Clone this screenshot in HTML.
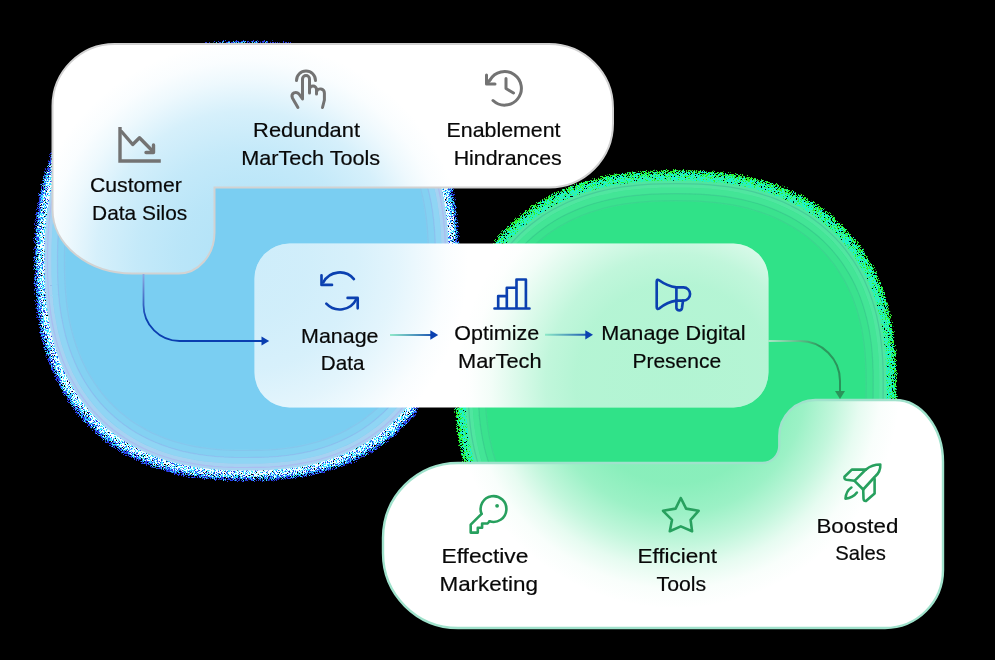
<!DOCTYPE html>
<html><head><meta charset="utf-8">
<style>
html,body{margin:0;padding:0;background:#000;width:995px;height:660px;overflow:hidden}
svg{display:block}
text{font-family:"Liberation Sans",sans-serif;font-size:20.8px;fill:#080808;stroke:#080808;stroke-width:0.2px}
</style></head>
<body>
<svg width="995" height="660" viewBox="0 0 995 660">
<defs>
  <path id="pTop" d="M52.5,106 A62,62 0 0 1 114.5,44 L549,44 A64,64 0 0 1 613,108 L613,123.5 A64,64 0 0 1 549,187.5 L214.5,187.5 L214.5,232.5 A36,41 0 0 1 178.5,273.5 L132.5,273.5 A80,64 0 0 1 52.5,209.5 Z"/>
  <path id="pMid" d="M289.5,243.5 H733.5 A35,35 0 0 1 768.5,278.5 V372.5 A35,35 0 0 1 733.5,407.5 H289.5 A35,35 0 0 1 254.5,372.5 V278.5 A35,35 0 0 1 289.5,243.5 Z"/>
  <path id="pBot" d="M383,538 A75,75 0 0 1 458,463 L762.3,463 A17,17 0 0 0 779.3,446 L779.3,436 A36,36 0 0 1 815.3,400 L895,400 A48,62 0 0 1 943,462 L943,570 A58,58 0 0 1 885,628 L458,628 A75,75 0 0 1 383,553 Z"/>
  <radialGradient id="gBlueTop" gradientUnits="userSpaceOnUse" cx="246.5" cy="261" r="220"><stop offset="0.000" stop-color="#7acef2" stop-opacity="0.600"/><stop offset="0.318" stop-color="#7acef2" stop-opacity="0.520"/><stop offset="0.500" stop-color="#7acef2" stop-opacity="0.440"/><stop offset="0.682" stop-color="#7acef2" stop-opacity="0.310"/><stop offset="0.818" stop-color="#7acef2" stop-opacity="0.130"/><stop offset="0.909" stop-color="#7acef2" stop-opacity="0.040"/><stop offset="1.000" stop-color="#7acef2" stop-opacity="0.000"/></radialGradient><radialGradient id="gBlueMid" gradientUnits="userSpaceOnUse" cx="246.5" cy="261" r="222"><stop offset="0.000" stop-color="#7acef2" stop-opacity="0.370"/><stop offset="0.270" stop-color="#7acef2" stop-opacity="0.350"/><stop offset="0.495" stop-color="#7acef2" stop-opacity="0.300"/><stop offset="0.676" stop-color="#7acef2" stop-opacity="0.210"/><stop offset="0.811" stop-color="#7acef2" stop-opacity="0.110"/><stop offset="0.901" stop-color="#7acef2" stop-opacity="0.040"/><stop offset="1.000" stop-color="#7acef2" stop-opacity="0.000"/></radialGradient><radialGradient id="gGreenMid" gradientUnits="userSpaceOnUse" cx="675.7" cy="383.7" r="220"><stop offset="0.000" stop-color="#30e288" stop-opacity="0.370"/><stop offset="0.455" stop-color="#30e288" stop-opacity="0.360"/><stop offset="0.591" stop-color="#30e288" stop-opacity="0.300"/><stop offset="0.727" stop-color="#30e288" stop-opacity="0.170"/><stop offset="0.841" stop-color="#30e288" stop-opacity="0.060"/><stop offset="0.932" stop-color="#30e288" stop-opacity="0.010"/><stop offset="1.000" stop-color="#30e288" stop-opacity="0.000"/></radialGradient><radialGradient id="gGreenBot" gradientUnits="userSpaceOnUse" cx="675.7" cy="383.7" r="225"><stop offset="0.000" stop-color="#30e288" stop-opacity="0.600"/><stop offset="0.444" stop-color="#30e288" stop-opacity="0.570"/><stop offset="0.578" stop-color="#30e288" stop-opacity="0.480"/><stop offset="0.711" stop-color="#30e288" stop-opacity="0.300"/><stop offset="0.822" stop-color="#30e288" stop-opacity="0.120"/><stop offset="0.911" stop-color="#30e288" stop-opacity="0.030"/><stop offset="1.000" stop-color="#30e288" stop-opacity="0.000"/></radialGradient>
  <filter id="bOut" x="0" y="0" width="995" height="660" filterUnits="userSpaceOnUse" color-interpolation-filters="sRGB">
    <feGaussianBlur in="SourceAlpha" stdDeviation="3" result="d"/>
    <feTurbulence type="fractalNoise" baseFrequency="1.1" numOctaves="1" seed="5" result="nr"/>
    <feColorMatrix in="nr" type="matrix" values="0 0 0 0 0  0 0 0 0 0  0 0 0 0 0  3 0 0 0 -1" result="n"/>
    <feComposite in="d" in2="n" operator="arithmetic" k1="2" k2="0" k3="0" k4="-0.4" result="s"/>
    <feComponentTransfer in="s" result="t"><feFuncA type="linear" slope="20" intercept="0"/></feComponentTransfer>
    <feFlood flood-color="#2a3ee8"/>
    <feComposite in2="t" operator="in"/>
  </filter>
  <filter id="bCyan" x="0" y="0" width="995" height="660" filterUnits="userSpaceOnUse" color-interpolation-filters="sRGB">
    <feGaussianBlur in="SourceAlpha" stdDeviation="4" result="d"/>
    <feTurbulence type="fractalNoise" baseFrequency="1.1" numOctaves="1" seed="9" result="nr"/>
    <feColorMatrix in="nr" type="matrix" values="0 0 0 0 0  0 0 0 0 0  0 0 0 0 0  3 0 0 0 -1" result="n"/>
    <feComposite in="d" in2="n" operator="arithmetic" k1="2" k2="0" k3="0" k4="-0.7" result="s"/>
    <feComponentTransfer in="s" result="t"><feFuncA type="linear" slope="20" intercept="0"/></feComponentTransfer>
    <feFlood flood-color="#38e4ff"/>
    <feComposite in2="t" operator="in"/>
  </filter>
  <filter id="bWhite" x="0" y="0" width="995" height="660" filterUnits="userSpaceOnUse" color-interpolation-filters="sRGB">
    <feGaussianBlur in="SourceAlpha" stdDeviation="4" result="d"/>
    <feTurbulence type="fractalNoise" baseFrequency="1.1" numOctaves="1" seed="13" result="nr"/>
    <feColorMatrix in="nr" type="matrix" values="0 0 0 0 0  0 0 0 0 0  0 0 0 0 0  3 0 0 0 -1" result="n"/>
    <feComposite in="d" in2="n" operator="arithmetic" k1="2" k2="0" k3="0" k4="-0.75" result="s"/>
    <feComponentTransfer in="s" result="t"><feFuncA type="linear" slope="20" intercept="0"/></feComponentTransfer>
    <feFlood flood-color="#f0fdff"/>
    <feComposite in2="t" operator="in"/>
  </filter>
  <filter id="gOut" x="0" y="0" width="995" height="660" filterUnits="userSpaceOnUse" color-interpolation-filters="sRGB">
    <feGaussianBlur in="SourceAlpha" stdDeviation="3" result="d"/>
    <feTurbulence type="fractalNoise" baseFrequency="1.1" numOctaves="1" seed="5" result="nr"/>
    <feColorMatrix in="nr" type="matrix" values="0 0 0 0 0  0 0 0 0 0  0 0 0 0 0  3 0 0 0 -1" result="n"/>
    <feComposite in="d" in2="n" operator="arithmetic" k1="2" k2="0" k3="0" k4="-0.4" result="s"/>
    <feComponentTransfer in="s" result="t"><feFuncA type="linear" slope="20" intercept="0"/></feComponentTransfer>
    <feFlood flood-color="#2cf030"/>
    <feComposite in2="t" operator="in"/>
  </filter>
  <filter id="gCyan" x="0" y="0" width="995" height="660" filterUnits="userSpaceOnUse" color-interpolation-filters="sRGB">
    <feGaussianBlur in="SourceAlpha" stdDeviation="4" result="d"/>
    <feTurbulence type="fractalNoise" baseFrequency="1.1" numOctaves="1" seed="9" result="nr"/>
    <feColorMatrix in="nr" type="matrix" values="0 0 0 0 0  0 0 0 0 0  0 0 0 0 0  3 0 0 0 -1" result="n"/>
    <feComposite in="d" in2="n" operator="arithmetic" k1="2" k2="0" k3="0" k4="-0.7" result="s"/>
    <feComponentTransfer in="s" result="t"><feFuncA type="linear" slope="20" intercept="0"/></feComponentTransfer>
    <feFlood flood-color="#14f4d4"/>
    <feComposite in2="t" operator="in"/>
  </filter>
  <filter id="gLite" x="0" y="0" width="995" height="660" filterUnits="userSpaceOnUse" color-interpolation-filters="sRGB">
    <feGaussianBlur in="SourceAlpha" stdDeviation="4" result="d"/>
    <feTurbulence type="fractalNoise" baseFrequency="1.1" numOctaves="1" seed="13" result="nr"/>
    <feColorMatrix in="nr" type="matrix" values="0 0 0 0 0  0 0 0 0 0  0 0 0 0 0  3 0 0 0 -1" result="n"/>
    <feComposite in="d" in2="n" operator="arithmetic" k1="2" k2="0" k3="0" k4="-0.75" result="s"/>
    <feComponentTransfer in="s" result="t"><feFuncA type="linear" slope="20" intercept="0"/></feComponentTransfer>
    <feFlood flood-color="#3cf0a0"/>
    <feComposite in2="t" operator="in"/>
  </filter>
  <linearGradient id="gArrow1" gradientUnits="userSpaceOnUse" x1="143" y1="274" x2="143" y2="320">
    <stop offset="0" stop-color="#8fa8e0"/>
    <stop offset="1" stop-color="#0a3eb0"/>
  </linearGradient>
  <linearGradient id="gArrowS" gradientUnits="userSpaceOnUse" x1="390" y1="0" x2="438" y2="0">
    <stop offset="0" stop-color="#86e8c4" stop-opacity="0.9"/>
    <stop offset="1" stop-color="#0b40b0"/>
  </linearGradient>
  <linearGradient id="gArrowS2" gradientUnits="userSpaceOnUse" x1="545" y1="0" x2="593" y2="0">
    <stop offset="0" stop-color="#86e8c4" stop-opacity="0.9"/>
    <stop offset="1" stop-color="#0b40b0"/>
  </linearGradient>
  <linearGradient id="gArrow2" gradientUnits="userSpaceOnUse" x1="768" y1="341" x2="835" y2="380">
    <stop offset="0" stop-color="#a8e8c6"/>
    <stop offset="0.6" stop-color="#2c9a5e"/>
    <stop offset="1" stop-color="#2a935a"/>
  </linearGradient>
</defs>
<rect width="995" height="660" fill="#000"/>
<!-- blue blob -->
<path d="M457.5,261.0 L457.4,275.5 L457.0,287.0 L456.3,297.4 L455.3,307.3 L454.1,316.7 L452.6,325.7 L450.9,334.4 L448.8,342.8 L446.5,350.9 L444.0,358.8 L441.2,366.4 L438.1,373.8 L434.7,381.0 L431.1,387.9 L427.3,394.6 L423.2,401.1 L418.9,407.3 L414.3,413.3 L409.4,419.0 L404.4,424.5 L399.1,429.7 L393.5,434.7 L387.8,439.5 L381.8,444.0 L375.5,448.2 L369.1,452.2 L362.4,455.9 L355.5,459.4 L348.3,462.6 L340.9,465.5 L333.3,468.1 L325.5,470.5 L317.4,472.6 L309.0,474.4 L300.2,476.0 L291.2,477.2 L281.7,478.2 L271.6,478.9 L260.5,479.4 L246.5,479.5 L232.5,479.4 L221.4,478.9 L211.3,478.2 L201.8,477.2 L192.8,476.0 L184.0,474.4 L175.6,472.6 L167.5,470.5 L159.7,468.1 L152.1,465.5 L144.7,462.6 L137.5,459.4 L130.6,455.9 L123.9,452.2 L117.5,448.2 L111.2,444.0 L105.2,439.5 L99.5,434.7 L93.9,429.7 L88.6,424.5 L83.6,419.0 L78.7,413.3 L74.1,407.3 L69.8,401.1 L65.7,394.6 L61.9,387.9 L58.3,381.0 L54.9,373.8 L51.8,366.4 L49.0,358.8 L46.5,350.9 L44.2,342.8 L42.1,334.4 L40.4,325.7 L38.9,316.7 L37.7,307.3 L36.7,297.4 L36.0,287.0 L35.6,275.5 L35.5,261.0 L35.6,246.5 L36.0,235.0 L36.7,224.6 L37.7,214.7 L38.9,205.3 L40.4,196.3 L42.1,187.6 L44.2,179.2 L46.5,171.1 L49.0,163.2 L51.8,155.6 L54.9,148.2 L58.3,141.0 L61.9,134.1 L65.7,127.4 L69.8,120.9 L74.1,114.7 L78.7,108.7 L83.6,103.0 L88.6,97.5 L93.9,92.3 L99.5,87.3 L105.2,82.5 L111.2,78.0 L117.5,73.8 L123.9,69.8 L130.6,66.1 L137.5,62.6 L144.7,59.4 L152.1,56.5 L159.7,53.9 L167.5,51.5 L175.6,49.4 L184.0,47.6 L192.8,46.0 L201.8,44.8 L211.3,43.8 L221.4,43.1 L232.5,42.6 L246.5,42.5 L260.5,42.6 L271.6,43.1 L281.7,43.8 L291.2,44.8 L300.2,46.0 L309.0,47.6 L317.4,49.4 L325.5,51.5 L333.3,53.9 L340.9,56.5 L348.3,59.4 L355.5,62.6 L362.4,66.1 L369.1,69.8 L375.5,73.8 L381.8,78.0 L387.8,82.5 L393.5,87.3 L399.1,92.3 L404.4,97.5 L409.4,103.0 L414.3,108.7 L418.9,114.7 L423.2,120.9 L427.3,127.4 L431.1,134.1 L434.7,141.0 L438.1,148.2 L441.2,155.6 L444.0,163.2 L446.5,171.1 L448.8,179.2 L450.9,187.6 L452.6,196.3 L454.1,205.3 L455.3,214.7 L456.3,224.6 L457.0,235.0 L457.4,246.5 Z" fill="#fff" filter="url(#bOut)"/>
<path d="M457.5,261.0 L457.4,275.5 L457.0,287.0 L456.3,297.4 L455.3,307.3 L454.1,316.7 L452.6,325.7 L450.9,334.4 L448.8,342.8 L446.5,350.9 L444.0,358.8 L441.2,366.4 L438.1,373.8 L434.7,381.0 L431.1,387.9 L427.3,394.6 L423.2,401.1 L418.9,407.3 L414.3,413.3 L409.4,419.0 L404.4,424.5 L399.1,429.7 L393.5,434.7 L387.8,439.5 L381.8,444.0 L375.5,448.2 L369.1,452.2 L362.4,455.9 L355.5,459.4 L348.3,462.6 L340.9,465.5 L333.3,468.1 L325.5,470.5 L317.4,472.6 L309.0,474.4 L300.2,476.0 L291.2,477.2 L281.7,478.2 L271.6,478.9 L260.5,479.4 L246.5,479.5 L232.5,479.4 L221.4,478.9 L211.3,478.2 L201.8,477.2 L192.8,476.0 L184.0,474.4 L175.6,472.6 L167.5,470.5 L159.7,468.1 L152.1,465.5 L144.7,462.6 L137.5,459.4 L130.6,455.9 L123.9,452.2 L117.5,448.2 L111.2,444.0 L105.2,439.5 L99.5,434.7 L93.9,429.7 L88.6,424.5 L83.6,419.0 L78.7,413.3 L74.1,407.3 L69.8,401.1 L65.7,394.6 L61.9,387.9 L58.3,381.0 L54.9,373.8 L51.8,366.4 L49.0,358.8 L46.5,350.9 L44.2,342.8 L42.1,334.4 L40.4,325.7 L38.9,316.7 L37.7,307.3 L36.7,297.4 L36.0,287.0 L35.6,275.5 L35.5,261.0 L35.6,246.5 L36.0,235.0 L36.7,224.6 L37.7,214.7 L38.9,205.3 L40.4,196.3 L42.1,187.6 L44.2,179.2 L46.5,171.1 L49.0,163.2 L51.8,155.6 L54.9,148.2 L58.3,141.0 L61.9,134.1 L65.7,127.4 L69.8,120.9 L74.1,114.7 L78.7,108.7 L83.6,103.0 L88.6,97.5 L93.9,92.3 L99.5,87.3 L105.2,82.5 L111.2,78.0 L117.5,73.8 L123.9,69.8 L130.6,66.1 L137.5,62.6 L144.7,59.4 L152.1,56.5 L159.7,53.9 L167.5,51.5 L175.6,49.4 L184.0,47.6 L192.8,46.0 L201.8,44.8 L211.3,43.8 L221.4,43.1 L232.5,42.6 L246.5,42.5 L260.5,42.6 L271.6,43.1 L281.7,43.8 L291.2,44.8 L300.2,46.0 L309.0,47.6 L317.4,49.4 L325.5,51.5 L333.3,53.9 L340.9,56.5 L348.3,59.4 L355.5,62.6 L362.4,66.1 L369.1,69.8 L375.5,73.8 L381.8,78.0 L387.8,82.5 L393.5,87.3 L399.1,92.3 L404.4,97.5 L409.4,103.0 L414.3,108.7 L418.9,114.7 L423.2,120.9 L427.3,127.4 L431.1,134.1 L434.7,141.0 L438.1,148.2 L441.2,155.6 L444.0,163.2 L446.5,171.1 L448.8,179.2 L450.9,187.6 L452.6,196.3 L454.1,205.3 L455.3,214.7 L456.3,224.6 L457.0,235.0 L457.4,246.5 Z" fill="#fff" filter="url(#bCyan)"/>
<path d="M455.5,261.0 L455.4,275.4 L455.0,286.7 L454.3,297.1 L453.3,306.8 L452.1,316.1 L450.7,325.1 L448.9,333.7 L446.9,342.0 L444.6,350.1 L442.1,357.9 L439.3,365.5 L436.3,372.8 L433.0,379.9 L429.4,386.8 L425.6,393.4 L421.5,399.8 L417.2,405.9 L412.7,411.9 L407.9,417.6 L402.9,423.0 L397.6,428.2 L392.1,433.2 L386.4,437.9 L380.5,442.3 L374.3,446.5 L367.9,450.5 L361.3,454.1 L354.4,457.6 L347.4,460.7 L340.1,463.6 L332.5,466.2 L324.7,468.6 L316.7,470.7 L308.4,472.5 L299.7,474.0 L290.8,475.3 L281.3,476.2 L271.3,476.9 L260.4,477.4 L246.5,477.5 L232.6,477.4 L221.7,476.9 L211.7,476.2 L202.2,475.3 L193.3,474.0 L184.6,472.5 L176.3,470.7 L168.3,468.6 L160.5,466.2 L152.9,463.6 L145.6,460.7 L138.6,457.6 L131.7,454.1 L125.1,450.5 L118.7,446.5 L112.5,442.3 L106.6,437.9 L100.9,433.2 L95.4,428.2 L90.1,423.0 L85.1,417.6 L80.3,411.9 L75.8,405.9 L71.5,399.8 L67.4,393.4 L63.6,386.8 L60.0,379.9 L56.7,372.8 L53.7,365.5 L50.9,357.9 L48.4,350.1 L46.1,342.0 L44.1,333.7 L42.3,325.1 L40.9,316.1 L39.7,306.8 L38.7,297.1 L38.0,286.7 L37.6,275.4 L37.5,261.0 L37.6,246.6 L38.0,235.3 L38.7,224.9 L39.7,215.2 L40.9,205.9 L42.3,196.9 L44.1,188.3 L46.1,180.0 L48.4,171.9 L50.9,164.1 L53.7,156.5 L56.7,149.2 L60.0,142.1 L63.6,135.2 L67.4,128.6 L71.5,122.2 L75.8,116.1 L80.3,110.1 L85.1,104.4 L90.1,99.0 L95.4,93.8 L100.9,88.8 L106.6,84.1 L112.5,79.7 L118.7,75.5 L125.1,71.5 L131.7,67.9 L138.6,64.4 L145.6,61.3 L152.9,58.4 L160.5,55.8 L168.3,53.4 L176.3,51.3 L184.6,49.5 L193.3,48.0 L202.2,46.7 L211.7,45.8 L221.7,45.1 L232.6,44.6 L246.5,44.5 L260.4,44.6 L271.3,45.1 L281.3,45.8 L290.8,46.7 L299.7,48.0 L308.4,49.5 L316.7,51.3 L324.7,53.4 L332.5,55.8 L340.1,58.4 L347.4,61.3 L354.4,64.4 L361.3,67.9 L367.9,71.5 L374.3,75.5 L380.5,79.7 L386.4,84.1 L392.1,88.8 L397.6,93.8 L402.9,99.0 L407.9,104.4 L412.7,110.1 L417.2,116.1 L421.5,122.2 L425.6,128.6 L429.4,135.2 L433.0,142.1 L436.3,149.2 L439.3,156.5 L442.1,164.1 L444.6,171.9 L446.9,180.0 L448.9,188.3 L450.7,196.9 L452.1,205.9 L453.3,215.2 L454.3,224.9 L455.0,235.3 L455.4,246.6 Z" fill="#fff" filter="url(#bWhite)"/>
<path d="M444.5,261.0 L444.4,274.7 L444.0,285.4 L443.4,295.3 L442.5,304.5 L441.3,313.3 L439.9,321.8 L438.3,330.0 L436.4,337.9 L434.2,345.6 L431.8,353.0 L429.2,360.2 L426.3,367.1 L423.1,373.9 L419.8,380.4 L416.2,386.7 L412.3,392.7 L408.2,398.6 L403.9,404.2 L399.4,409.6 L394.7,414.8 L389.7,419.7 L384.5,424.4 L379.1,428.9 L373.4,433.1 L367.6,437.1 L361.5,440.8 L355.2,444.3 L348.8,447.6 L342.1,450.6 L335.1,453.3 L328.0,455.8 L320.6,458.0 L313.0,460.0 L305.1,461.7 L296.9,463.2 L288.4,464.4 L279.5,465.3 L270.0,466.0 L259.7,466.4 L246.5,466.5 L233.3,466.4 L223.0,466.0 L213.5,465.3 L204.6,464.4 L196.1,463.2 L187.9,461.7 L180.0,460.0 L172.4,458.0 L165.0,455.8 L157.9,453.3 L150.9,450.6 L144.2,447.6 L137.8,444.3 L131.5,440.8 L125.4,437.1 L119.6,433.1 L113.9,428.9 L108.5,424.4 L103.3,419.7 L98.3,414.8 L93.6,409.6 L89.1,404.2 L84.8,398.6 L80.7,392.7 L76.8,386.7 L73.2,380.4 L69.9,373.9 L66.7,367.1 L63.8,360.2 L61.2,353.0 L58.8,345.6 L56.6,337.9 L54.7,330.0 L53.1,321.8 L51.7,313.3 L50.5,304.5 L49.6,295.3 L49.0,285.4 L48.6,274.7 L48.5,261.0 L48.6,247.3 L49.0,236.6 L49.6,226.7 L50.5,217.5 L51.7,208.7 L53.1,200.2 L54.7,192.0 L56.6,184.1 L58.8,176.4 L61.2,169.0 L63.8,161.8 L66.7,154.9 L69.9,148.1 L73.2,141.6 L76.8,135.3 L80.7,129.3 L84.8,123.4 L89.1,117.8 L93.6,112.4 L98.3,107.2 L103.3,102.3 L108.5,97.6 L113.9,93.1 L119.6,88.9 L125.4,84.9 L131.5,81.2 L137.8,77.7 L144.2,74.4 L150.9,71.4 L157.9,68.7 L165.0,66.2 L172.4,64.0 L180.0,62.0 L187.9,60.3 L196.1,58.8 L204.6,57.6 L213.5,56.7 L223.0,56.0 L233.3,55.6 L246.5,55.5 L259.7,55.6 L270.0,56.0 L279.5,56.7 L288.4,57.6 L296.9,58.8 L305.1,60.3 L313.0,62.0 L320.6,64.0 L328.0,66.2 L335.1,68.7 L342.1,71.4 L348.8,74.4 L355.2,77.7 L361.5,81.2 L367.6,84.9 L373.4,88.9 L379.1,93.1 L384.5,97.6 L389.7,102.3 L394.7,107.2 L399.4,112.4 L403.9,117.8 L408.2,123.4 L412.3,129.3 L416.2,135.3 L419.8,141.6 L423.1,148.1 L426.3,154.9 L429.2,161.8 L431.8,169.0 L434.2,176.4 L436.4,184.1 L438.3,192.0 L439.9,200.2 L441.3,208.7 L442.5,217.5 L443.4,226.7 L444.0,236.6 L444.4,247.3 Z" fill="none" stroke="#a6d2f2" stroke-width="8"/>
<path d="M441.5,261.0 L441.4,274.5 L441.0,285.1 L440.4,294.8 L439.5,303.9 L438.4,312.6 L437.0,320.9 L435.4,329.0 L433.5,336.8 L431.4,344.3 L429.0,351.6 L426.4,358.7 L423.5,365.6 L420.5,372.2 L417.1,378.6 L413.6,384.8 L409.8,390.8 L405.8,396.6 L401.6,402.1 L397.1,407.4 L392.4,412.5 L387.5,417.4 L382.4,422.0 L377.0,426.4 L371.5,430.6 L365.7,434.5 L359.8,438.2 L353.6,441.7 L347.2,444.9 L340.6,447.8 L333.8,450.5 L326.8,453.0 L319.5,455.2 L312.0,457.1 L304.2,458.8 L296.2,460.2 L287.8,461.4 L279.0,462.3 L269.7,463.0 L259.5,463.4 L246.5,463.5 L233.5,463.4 L223.3,463.0 L214.0,462.3 L205.2,461.4 L196.8,460.2 L188.8,458.8 L181.0,457.1 L173.5,455.2 L166.2,453.0 L159.2,450.5 L152.4,447.8 L145.8,444.9 L139.4,441.7 L133.2,438.2 L127.3,434.5 L121.5,430.6 L116.0,426.4 L110.6,422.0 L105.5,417.4 L100.6,412.5 L95.9,407.4 L91.4,402.1 L87.2,396.6 L83.2,390.8 L79.4,384.8 L75.9,378.6 L72.5,372.2 L69.5,365.6 L66.6,358.7 L64.0,351.6 L61.6,344.3 L59.5,336.8 L57.6,329.0 L56.0,320.9 L54.6,312.6 L53.5,303.9 L52.6,294.8 L52.0,285.1 L51.6,274.5 L51.5,261.0 L51.6,247.5 L52.0,236.9 L52.6,227.2 L53.5,218.1 L54.6,209.4 L56.0,201.1 L57.6,193.0 L59.5,185.2 L61.6,177.7 L64.0,170.4 L66.6,163.3 L69.5,156.4 L72.5,149.8 L75.9,143.4 L79.4,137.2 L83.2,131.2 L87.2,125.4 L91.4,119.9 L95.9,114.6 L100.6,109.5 L105.5,104.6 L110.6,100.0 L116.0,95.6 L121.5,91.4 L127.3,87.5 L133.2,83.8 L139.4,80.3 L145.8,77.1 L152.4,74.2 L159.2,71.5 L166.2,69.0 L173.5,66.8 L181.0,64.9 L188.8,63.2 L196.8,61.8 L205.2,60.6 L214.0,59.7 L223.3,59.0 L233.5,58.6 L246.5,58.5 L259.5,58.6 L269.7,59.0 L279.0,59.7 L287.8,60.6 L296.2,61.8 L304.2,63.2 L312.0,64.9 L319.5,66.8 L326.8,69.0 L333.8,71.5 L340.6,74.2 L347.2,77.1 L353.6,80.3 L359.8,83.8 L365.7,87.5 L371.5,91.4 L377.0,95.6 L382.4,100.0 L387.5,104.6 L392.4,109.5 L397.1,114.6 L401.6,119.9 L405.8,125.4 L409.8,131.2 L413.6,137.2 L417.1,143.4 L420.5,149.8 L423.5,156.4 L426.4,163.3 L429.0,170.4 L431.4,177.7 L433.5,185.2 L435.4,193.0 L437.0,201.1 L438.4,209.4 L439.5,218.1 L440.4,227.2 L441.0,236.9 L441.4,247.5 Z" fill="#7acef2"/>
<path d="M438.5,261.0 L438.4,274.3 L438.0,284.7 L437.4,294.3 L436.5,303.2 L435.4,311.8 L434.1,320.1 L432.4,328.0 L430.6,335.7 L428.5,343.1 L426.2,350.3 L423.6,357.3 L420.8,364.0 L417.8,370.6 L414.5,376.9 L411.0,383.0 L407.3,388.9 L403.3,394.6 L399.2,400.0 L394.8,405.3 L390.2,410.3 L385.3,415.1 L380.3,419.6 L375.0,424.0 L369.6,428.1 L363.9,431.9 L358.0,435.6 L351.9,439.0 L345.7,442.1 L339.2,445.0 L332.4,447.7 L325.5,450.1 L318.4,452.3 L311.0,454.2 L303.3,455.9 L295.4,457.3 L287.2,458.4 L278.5,459.3 L269.3,460.0 L259.3,460.4 L246.5,460.5 L233.7,460.4 L223.7,460.0 L214.5,459.3 L205.8,458.4 L197.6,457.3 L189.7,455.9 L182.0,454.2 L174.6,452.3 L167.5,450.1 L160.6,447.7 L153.8,445.0 L147.3,442.1 L141.1,439.0 L135.0,435.6 L129.1,431.9 L123.4,428.1 L118.0,424.0 L112.7,419.6 L107.7,415.1 L102.8,410.3 L98.2,405.3 L93.8,400.0 L89.7,394.6 L85.7,388.9 L82.0,383.0 L78.5,376.9 L75.2,370.6 L72.2,364.0 L69.4,357.3 L66.8,350.3 L64.5,343.1 L62.4,335.7 L60.6,328.0 L58.9,320.1 L57.6,311.8 L56.5,303.2 L55.6,294.3 L55.0,284.7 L54.6,274.3 L54.5,261.0 L54.6,247.7 L55.0,237.3 L55.6,227.7 L56.5,218.8 L57.6,210.2 L58.9,201.9 L60.6,194.0 L62.4,186.3 L64.5,178.9 L66.8,171.7 L69.4,164.7 L72.2,158.0 L75.2,151.4 L78.5,145.1 L82.0,139.0 L85.7,133.1 L89.7,127.4 L93.8,122.0 L98.2,116.7 L102.8,111.7 L107.7,106.9 L112.7,102.4 L118.0,98.0 L123.4,93.9 L129.1,90.1 L135.0,86.4 L141.1,83.0 L147.3,79.9 L153.8,77.0 L160.6,74.3 L167.5,71.9 L174.6,69.7 L182.0,67.8 L189.7,66.1 L197.6,64.7 L205.8,63.6 L214.5,62.7 L223.7,62.0 L233.7,61.6 L246.5,61.5 L259.3,61.6 L269.3,62.0 L278.5,62.7 L287.2,63.6 L295.4,64.7 L303.3,66.1 L311.0,67.8 L318.4,69.7 L325.5,71.9 L332.4,74.3 L339.2,77.0 L345.7,79.9 L351.9,83.0 L358.0,86.4 L363.9,90.1 L369.6,93.9 L375.0,98.0 L380.3,102.4 L385.3,106.9 L390.2,111.7 L394.8,116.7 L399.2,122.0 L403.3,127.4 L407.3,133.1 L411.0,139.0 L414.5,145.1 L417.8,151.4 L420.8,158.0 L423.6,164.7 L426.2,171.7 L428.5,178.9 L430.6,186.3 L432.4,194.0 L434.1,201.9 L435.4,210.2 L436.5,218.8 L437.4,227.7 L438.0,237.3 L438.4,247.7 Z" fill="none" stroke="#a8def6" stroke-opacity="0.45" stroke-width="6"/>
<path d="M431.5,261.0 L431.4,273.8 L431.0,283.9 L430.4,293.1 L429.6,301.8 L428.5,310.0 L427.2,318.0 L425.7,325.6 L423.9,333.1 L421.9,340.2 L419.6,347.2 L417.2,353.9 L414.5,360.4 L411.5,366.7 L408.4,372.8 L405.0,378.7 L401.4,384.4 L397.6,389.9 L393.6,395.1 L389.4,400.2 L384.9,405.0 L380.3,409.7 L375.4,414.1 L370.4,418.3 L365.1,422.2 L359.6,426.0 L354.0,429.5 L348.1,432.7 L342.0,435.8 L335.8,438.6 L329.3,441.2 L322.6,443.5 L315.7,445.6 L308.6,447.4 L301.3,449.0 L293.6,450.4 L285.7,451.5 L277.3,452.4 L268.5,453.0 L258.8,453.4 L246.5,453.5 L234.2,453.4 L224.5,453.0 L215.7,452.4 L207.3,451.5 L199.4,450.4 L191.7,449.0 L184.4,447.4 L177.3,445.6 L170.4,443.5 L163.7,441.2 L157.2,438.6 L151.0,435.8 L144.9,432.7 L139.0,429.5 L133.4,426.0 L127.9,422.2 L122.6,418.3 L117.6,414.1 L112.7,409.7 L108.1,405.0 L103.6,400.2 L99.4,395.1 L95.4,389.9 L91.6,384.4 L88.0,378.7 L84.6,372.8 L81.5,366.7 L78.5,360.4 L75.8,353.9 L73.4,347.2 L71.1,340.2 L69.1,333.1 L67.3,325.6 L65.8,318.0 L64.5,310.0 L63.4,301.8 L62.6,293.1 L62.0,283.9 L61.6,273.8 L61.5,261.0 L61.6,248.2 L62.0,238.1 L62.6,228.9 L63.4,220.2 L64.5,212.0 L65.8,204.0 L67.3,196.4 L69.1,188.9 L71.1,181.8 L73.4,174.8 L75.8,168.1 L78.5,161.6 L81.5,155.3 L84.6,149.2 L88.0,143.3 L91.6,137.6 L95.4,132.1 L99.4,126.9 L103.6,121.8 L108.1,117.0 L112.7,112.3 L117.6,107.9 L122.6,103.7 L127.9,99.8 L133.4,96.0 L139.0,92.5 L144.9,89.3 L151.0,86.2 L157.2,83.4 L163.7,80.8 L170.4,78.5 L177.3,76.4 L184.4,74.6 L191.7,73.0 L199.4,71.6 L207.3,70.5 L215.7,69.6 L224.5,69.0 L234.2,68.6 L246.5,68.5 L258.8,68.6 L268.5,69.0 L277.3,69.6 L285.7,70.5 L293.6,71.6 L301.3,73.0 L308.6,74.6 L315.7,76.4 L322.6,78.5 L329.3,80.8 L335.8,83.4 L342.0,86.2 L348.1,89.3 L354.0,92.5 L359.6,96.0 L365.1,99.8 L370.4,103.7 L375.4,107.9 L380.3,112.3 L384.9,117.0 L389.4,121.8 L393.6,126.9 L397.6,132.1 L401.4,137.6 L405.0,143.3 L408.4,149.2 L411.5,155.3 L414.5,161.6 L417.2,168.1 L419.6,174.8 L421.9,181.8 L423.9,188.9 L425.7,196.4 L427.2,204.0 L428.5,212.0 L429.6,220.2 L430.4,228.9 L431.0,238.1 L431.4,248.2 Z" fill="none" stroke="#a0daf4" stroke-opacity="0.25" stroke-width="8"/>
<path d="M435.5,261.0 L435.4,274.1 L435.0,284.4 L434.4,293.8 L433.6,302.6 L432.5,311.1 L431.1,319.2 L429.5,327.0 L427.7,334.5 L425.7,341.9 L423.4,349.0 L420.9,355.8 L418.1,362.5 L415.1,368.9 L411.9,375.1 L408.5,381.2 L404.8,387.0 L400.9,392.6 L396.8,397.9 L392.5,403.1 L387.9,408.0 L383.2,412.8 L378.2,417.2 L373.0,421.5 L367.7,425.6 L362.1,429.4 L356.3,433.0 L350.3,436.3 L344.1,439.4 L337.7,442.3 L331.1,444.9 L324.3,447.3 L317.2,449.4 L310.0,451.3 L302.4,452.9 L294.6,454.3 L286.5,455.5 L278.0,456.4 L269.0,457.0 L259.1,457.4 L246.5,457.5 L233.9,457.4 L224.0,457.0 L215.0,456.4 L206.5,455.5 L198.4,454.3 L190.6,452.9 L183.0,451.3 L175.8,449.4 L168.7,447.3 L161.9,444.9 L155.3,442.3 L148.9,439.4 L142.7,436.3 L136.7,433.0 L130.9,429.4 L125.3,425.6 L120.0,421.5 L114.8,417.2 L109.8,412.8 L105.1,408.0 L100.5,403.1 L96.2,397.9 L92.1,392.6 L88.2,387.0 L84.5,381.2 L81.1,375.1 L77.9,368.9 L74.9,362.5 L72.1,355.8 L69.6,349.0 L67.3,341.9 L65.3,334.5 L63.5,327.0 L61.9,319.2 L60.5,311.1 L59.4,302.6 L58.6,293.8 L58.0,284.4 L57.6,274.1 L57.5,261.0 L57.6,247.9 L58.0,237.6 L58.6,228.2 L59.4,219.4 L60.5,210.9 L61.9,202.8 L63.5,195.0 L65.3,187.5 L67.3,180.1 L69.6,173.0 L72.1,166.2 L74.9,159.5 L77.9,153.1 L81.1,146.9 L84.5,140.8 L88.2,135.0 L92.1,129.4 L96.2,124.1 L100.5,118.9 L105.1,114.0 L109.8,109.2 L114.8,104.8 L120.0,100.5 L125.3,96.4 L130.9,92.6 L136.7,89.0 L142.7,85.7 L148.9,82.6 L155.3,79.7 L161.9,77.1 L168.7,74.7 L175.8,72.6 L183.0,70.7 L190.6,69.1 L198.4,67.7 L206.5,66.5 L215.0,65.6 L224.0,65.0 L233.9,64.6 L246.5,64.5 L259.1,64.6 L269.0,65.0 L278.0,65.6 L286.5,66.5 L294.6,67.7 L302.4,69.1 L310.0,70.7 L317.2,72.6 L324.3,74.7 L331.1,77.1 L337.7,79.7 L344.1,82.6 L350.3,85.7 L356.3,89.0 L362.1,92.6 L367.7,96.4 L373.0,100.5 L378.2,104.8 L383.2,109.2 L387.9,114.0 L392.5,118.9 L396.8,124.1 L400.9,129.4 L404.8,135.0 L408.5,140.8 L411.9,146.9 L415.1,153.1 L418.1,159.5 L420.9,166.2 L423.4,173.0 L425.7,180.1 L427.7,187.5 L429.5,195.0 L431.1,202.8 L432.5,210.9 L433.6,219.4 L434.4,228.2 L435.0,237.6 L435.4,247.9 Z" fill="none" stroke="#9a9ce8" stroke-opacity="0.3" stroke-width="1.2"/>
<path d="M428.5,261.0 L428.4,273.6 L428.0,283.5 L427.4,292.6 L426.6,301.1 L425.6,309.3 L424.3,317.1 L422.8,324.6 L421.0,331.9 L419.0,339.0 L416.8,345.8 L414.4,352.4 L411.7,358.9 L408.9,365.1 L405.8,371.1 L402.5,376.9 L398.9,382.5 L395.2,387.9 L391.2,393.1 L387.1,398.0 L382.7,402.8 L378.1,407.3 L373.3,411.7 L368.3,415.8 L363.2,419.7 L357.8,423.4 L352.2,426.8 L346.5,430.1 L340.5,433.1 L334.3,435.8 L328.0,438.4 L321.4,440.6 L314.6,442.7 L307.6,444.5 L300.4,446.1 L292.9,447.4 L285.0,448.5 L276.8,449.4 L268.1,450.0 L258.6,450.4 L246.5,450.5 L234.4,450.4 L224.9,450.0 L216.2,449.4 L208.0,448.5 L200.1,447.4 L192.6,446.1 L185.4,444.5 L178.4,442.7 L171.6,440.6 L165.0,438.4 L158.7,435.8 L152.5,433.1 L146.5,430.1 L140.8,426.8 L135.2,423.4 L129.8,419.7 L124.7,415.8 L119.7,411.7 L114.9,407.3 L110.3,402.8 L105.9,398.0 L101.8,393.1 L97.8,387.9 L94.1,382.5 L90.5,376.9 L87.2,371.1 L84.1,365.1 L81.3,358.9 L78.6,352.4 L76.2,345.8 L74.0,339.0 L72.0,331.9 L70.2,324.6 L68.7,317.1 L67.4,309.3 L66.4,301.1 L65.6,292.6 L65.0,283.5 L64.6,273.6 L64.5,261.0 L64.6,248.4 L65.0,238.5 L65.6,229.4 L66.4,220.9 L67.4,212.7 L68.7,204.9 L70.2,197.4 L72.0,190.1 L74.0,183.0 L76.2,176.2 L78.6,169.6 L81.3,163.1 L84.1,156.9 L87.2,150.9 L90.5,145.1 L94.1,139.5 L97.8,134.1 L101.8,128.9 L105.9,124.0 L110.3,119.2 L114.9,114.7 L119.7,110.3 L124.7,106.2 L129.8,102.3 L135.2,98.6 L140.8,95.2 L146.5,91.9 L152.5,88.9 L158.7,86.2 L165.0,83.6 L171.6,81.4 L178.4,79.3 L185.4,77.5 L192.6,75.9 L200.1,74.6 L208.0,73.5 L216.2,72.6 L224.9,72.0 L234.4,71.6 L246.5,71.5 L258.6,71.6 L268.1,72.0 L276.8,72.6 L285.0,73.5 L292.9,74.6 L300.4,75.9 L307.6,77.5 L314.6,79.3 L321.4,81.4 L328.0,83.6 L334.3,86.2 L340.5,88.9 L346.5,91.9 L352.2,95.2 L357.8,98.6 L363.2,102.3 L368.3,106.2 L373.3,110.3 L378.1,114.7 L382.7,119.2 L387.1,124.0 L391.2,128.9 L395.2,134.1 L398.9,139.5 L402.5,145.1 L405.8,150.9 L408.9,156.9 L411.7,163.1 L414.4,169.6 L416.8,176.2 L419.0,183.0 L421.0,190.1 L422.8,197.4 L424.3,204.9 L425.6,212.7 L426.6,220.9 L427.4,229.4 L428.0,238.5 L428.4,248.4 Z" fill="none" stroke="#8aa8e0" stroke-opacity="0.25" stroke-width="1.2"/>
<path d="M445.5,261.0 L445.4,274.8 L445.0,285.5 L444.3,295.4 L443.4,304.7 L442.3,313.6 L440.9,322.1 L439.2,330.3 L437.3,338.3 L435.2,346.0 L432.7,353.4 L430.1,360.7 L427.2,367.6 L424.0,374.4 L420.6,381.0 L417.0,387.3 L413.2,393.4 L409.1,399.2 L404.7,404.9 L400.2,410.3 L395.4,415.5 L390.4,420.5 L385.2,425.2 L379.7,429.7 L374.1,433.9 L368.2,437.9 L362.1,441.7 L355.8,445.2 L349.3,448.5 L342.5,451.5 L335.6,454.3 L328.4,456.8 L321.0,459.0 L313.3,461.0 L305.4,462.7 L297.2,464.2 L288.6,465.4 L279.7,466.3 L270.2,467.0 L259.8,467.4 L246.5,467.5 L233.2,467.4 L222.8,467.0 L213.3,466.3 L204.4,465.4 L195.8,464.2 L187.6,462.7 L179.7,461.0 L172.0,459.0 L164.6,456.8 L157.4,454.3 L150.5,451.5 L143.7,448.5 L137.2,445.2 L130.9,441.7 L124.8,437.9 L118.9,433.9 L113.3,429.7 L107.8,425.2 L102.6,420.5 L97.6,415.5 L92.8,410.3 L88.3,404.9 L83.9,399.2 L79.8,393.4 L76.0,387.3 L72.4,381.0 L69.0,374.4 L65.8,367.6 L62.9,360.7 L60.3,353.4 L57.8,346.0 L55.7,338.3 L53.8,330.3 L52.1,322.1 L50.7,313.6 L49.6,304.7 L48.7,295.4 L48.0,285.5 L47.6,274.8 L47.5,261.0 L47.6,247.2 L48.0,236.5 L48.7,226.6 L49.6,217.3 L50.7,208.4 L52.1,199.9 L53.8,191.7 L55.7,183.7 L57.8,176.0 L60.3,168.6 L62.9,161.3 L65.8,154.4 L69.0,147.6 L72.4,141.0 L76.0,134.7 L79.8,128.6 L83.9,122.8 L88.3,117.1 L92.8,111.7 L97.6,106.5 L102.6,101.5 L107.8,96.8 L113.3,92.3 L118.9,88.1 L124.8,84.1 L130.9,80.3 L137.2,76.8 L143.7,73.5 L150.5,70.5 L157.4,67.7 L164.6,65.2 L172.0,63.0 L179.7,61.0 L187.6,59.3 L195.8,57.8 L204.4,56.6 L213.3,55.7 L222.8,55.0 L233.2,54.6 L246.5,54.5 L259.8,54.6 L270.2,55.0 L279.7,55.7 L288.6,56.6 L297.2,57.8 L305.4,59.3 L313.3,61.0 L321.0,63.0 L328.4,65.2 L335.6,67.7 L342.5,70.5 L349.3,73.5 L355.8,76.8 L362.1,80.3 L368.2,84.1 L374.1,88.1 L379.7,92.3 L385.2,96.8 L390.4,101.5 L395.4,106.5 L400.2,111.7 L404.7,117.1 L409.1,122.8 L413.2,128.6 L417.0,134.7 L420.6,141.0 L424.0,147.6 L427.2,154.4 L430.1,161.3 L432.7,168.6 L435.2,176.0 L437.3,183.7 L439.2,191.7 L440.9,199.9 L442.3,208.4 L443.4,217.3 L444.3,226.6 L445.0,236.5 L445.4,247.2 Z" fill="none" stroke="#b0a8f0" stroke-opacity="0.5" stroke-width="1.2"/>
<!-- green blob -->
<path d="M895.2,383.7 L895.1,398.0 L894.6,409.1 L893.9,419.3 L892.9,428.9 L891.7,438.0 L890.1,446.8 L888.3,455.2 L886.2,463.4 L883.8,471.3 L881.2,478.9 L878.3,486.3 L875.1,493.5 L871.6,500.4 L867.9,507.1 L863.9,513.6 L859.7,519.9 L855.2,525.9 L850.4,531.7 L845.4,537.2 L840.1,542.5 L834.6,547.6 L828.9,552.4 L822.9,557.0 L816.7,561.4 L810.2,565.5 L803.5,569.3 L796.5,572.9 L789.4,576.3 L781.9,579.3 L774.3,582.2 L766.4,584.7 L758.2,587.0 L749.7,589.0 L741.0,590.8 L731.9,592.3 L722.5,593.5 L712.6,594.5 L702.0,595.2 L690.5,595.6 L675.7,595.7 L660.9,595.6 L649.4,595.2 L638.8,594.5 L628.9,593.5 L619.5,592.3 L610.4,590.8 L601.7,589.0 L593.2,587.0 L585.0,584.7 L577.1,582.2 L569.5,579.3 L562.0,576.3 L554.9,572.9 L547.9,569.3 L541.2,565.5 L534.7,561.4 L528.5,557.0 L522.5,552.4 L516.8,547.6 L511.3,542.5 L506.0,537.2 L501.0,531.7 L496.2,525.9 L491.7,519.9 L487.5,513.6 L483.5,507.1 L479.8,500.4 L476.3,493.5 L473.1,486.3 L470.2,478.9 L467.6,471.3 L465.2,463.4 L463.1,455.2 L461.3,446.8 L459.7,438.0 L458.5,428.9 L457.5,419.3 L456.8,409.1 L456.3,398.0 L456.2,383.7 L456.3,369.4 L456.8,358.3 L457.5,348.1 L458.5,338.5 L459.7,329.4 L461.3,320.6 L463.1,312.2 L465.2,304.0 L467.6,296.1 L470.2,288.5 L473.1,281.1 L476.3,273.9 L479.8,267.0 L483.5,260.3 L487.5,253.8 L491.7,247.5 L496.2,241.5 L501.0,235.7 L506.0,230.2 L511.3,224.9 L516.8,219.8 L522.5,215.0 L528.5,210.4 L534.7,206.0 L541.2,201.9 L547.9,198.1 L554.9,194.5 L562.0,191.1 L569.5,188.1 L577.1,185.2 L585.0,182.7 L593.2,180.4 L601.7,178.4 L610.4,176.6 L619.5,175.1 L628.9,173.9 L638.8,172.9 L649.4,172.2 L660.9,171.8 L675.7,171.7 L690.5,171.8 L702.0,172.2 L712.6,172.9 L722.5,173.9 L731.9,175.1 L741.0,176.6 L749.7,178.4 L758.2,180.4 L766.4,182.7 L774.3,185.2 L781.9,188.1 L789.4,191.1 L796.5,194.5 L803.5,198.1 L810.2,201.9 L816.7,206.0 L822.9,210.4 L828.9,215.0 L834.6,219.8 L840.1,224.9 L845.4,230.2 L850.4,235.7 L855.2,241.5 L859.7,247.5 L863.9,253.8 L867.9,260.3 L871.6,267.0 L875.1,273.9 L878.3,281.1 L881.2,288.5 L883.8,296.1 L886.2,304.0 L888.3,312.2 L890.1,320.6 L891.7,329.4 L892.9,338.5 L893.9,348.1 L894.6,358.3 L895.1,369.4 Z" fill="#fff" filter="url(#gOut)"/>
<path d="M895.2,383.7 L895.1,398.0 L894.6,409.1 L893.9,419.3 L892.9,428.9 L891.7,438.0 L890.1,446.8 L888.3,455.2 L886.2,463.4 L883.8,471.3 L881.2,478.9 L878.3,486.3 L875.1,493.5 L871.6,500.4 L867.9,507.1 L863.9,513.6 L859.7,519.9 L855.2,525.9 L850.4,531.7 L845.4,537.2 L840.1,542.5 L834.6,547.6 L828.9,552.4 L822.9,557.0 L816.7,561.4 L810.2,565.5 L803.5,569.3 L796.5,572.9 L789.4,576.3 L781.9,579.3 L774.3,582.2 L766.4,584.7 L758.2,587.0 L749.7,589.0 L741.0,590.8 L731.9,592.3 L722.5,593.5 L712.6,594.5 L702.0,595.2 L690.5,595.6 L675.7,595.7 L660.9,595.6 L649.4,595.2 L638.8,594.5 L628.9,593.5 L619.5,592.3 L610.4,590.8 L601.7,589.0 L593.2,587.0 L585.0,584.7 L577.1,582.2 L569.5,579.3 L562.0,576.3 L554.9,572.9 L547.9,569.3 L541.2,565.5 L534.7,561.4 L528.5,557.0 L522.5,552.4 L516.8,547.6 L511.3,542.5 L506.0,537.2 L501.0,531.7 L496.2,525.9 L491.7,519.9 L487.5,513.6 L483.5,507.1 L479.8,500.4 L476.3,493.5 L473.1,486.3 L470.2,478.9 L467.6,471.3 L465.2,463.4 L463.1,455.2 L461.3,446.8 L459.7,438.0 L458.5,428.9 L457.5,419.3 L456.8,409.1 L456.3,398.0 L456.2,383.7 L456.3,369.4 L456.8,358.3 L457.5,348.1 L458.5,338.5 L459.7,329.4 L461.3,320.6 L463.1,312.2 L465.2,304.0 L467.6,296.1 L470.2,288.5 L473.1,281.1 L476.3,273.9 L479.8,267.0 L483.5,260.3 L487.5,253.8 L491.7,247.5 L496.2,241.5 L501.0,235.7 L506.0,230.2 L511.3,224.9 L516.8,219.8 L522.5,215.0 L528.5,210.4 L534.7,206.0 L541.2,201.9 L547.9,198.1 L554.9,194.5 L562.0,191.1 L569.5,188.1 L577.1,185.2 L585.0,182.7 L593.2,180.4 L601.7,178.4 L610.4,176.6 L619.5,175.1 L628.9,173.9 L638.8,172.9 L649.4,172.2 L660.9,171.8 L675.7,171.7 L690.5,171.8 L702.0,172.2 L712.6,172.9 L722.5,173.9 L731.9,175.1 L741.0,176.6 L749.7,178.4 L758.2,180.4 L766.4,182.7 L774.3,185.2 L781.9,188.1 L789.4,191.1 L796.5,194.5 L803.5,198.1 L810.2,201.9 L816.7,206.0 L822.9,210.4 L828.9,215.0 L834.6,219.8 L840.1,224.9 L845.4,230.2 L850.4,235.7 L855.2,241.5 L859.7,247.5 L863.9,253.8 L867.9,260.3 L871.6,267.0 L875.1,273.9 L878.3,281.1 L881.2,288.5 L883.8,296.1 L886.2,304.0 L888.3,312.2 L890.1,320.6 L891.7,329.4 L892.9,338.5 L893.9,348.1 L894.6,358.3 L895.1,369.4 Z" fill="#fff" filter="url(#gCyan)"/>
<path d="M892.2,383.7 L892.1,397.8 L891.6,408.8 L890.9,418.8 L890.0,428.2 L888.7,437.2 L887.2,445.9 L885.4,454.2 L883.3,462.2 L881.0,470.0 L878.4,477.6 L875.5,484.9 L872.3,491.9 L868.9,498.8 L865.3,505.4 L861.3,511.8 L857.1,517.9 L852.7,523.9 L848.0,529.6 L843.1,535.0 L837.9,540.3 L832.5,545.3 L826.8,550.0 L820.9,554.6 L814.7,558.9 L808.4,562.9 L801.7,566.7 L794.9,570.2 L787.8,573.5 L780.5,576.6 L772.9,579.4 L765.1,581.9 L757.1,584.1 L748.7,586.1 L740.1,587.9 L731.2,589.3 L721.8,590.6 L712.1,591.5 L701.7,592.2 L690.3,592.6 L675.7,592.7 L661.1,592.6 L649.7,592.2 L639.3,591.5 L629.6,590.6 L620.2,589.3 L611.3,587.9 L602.7,586.1 L594.3,584.1 L586.3,581.9 L578.5,579.4 L570.9,576.6 L563.6,573.5 L556.5,570.2 L549.7,566.7 L543.0,562.9 L536.7,558.9 L530.5,554.6 L524.6,550.0 L518.9,545.3 L513.5,540.3 L508.3,535.0 L503.4,529.6 L498.7,523.9 L494.3,517.9 L490.1,511.8 L486.1,505.4 L482.5,498.8 L479.1,491.9 L475.9,484.9 L473.0,477.6 L470.4,470.0 L468.1,462.2 L466.0,454.2 L464.2,445.9 L462.7,437.2 L461.4,428.2 L460.5,418.8 L459.8,408.8 L459.3,397.8 L459.2,383.7 L459.3,369.6 L459.8,358.6 L460.5,348.6 L461.4,339.2 L462.7,330.2 L464.2,321.5 L466.0,313.2 L468.1,305.2 L470.4,297.4 L473.0,289.8 L475.9,282.5 L479.1,275.5 L482.5,268.6 L486.1,262.0 L490.1,255.6 L494.3,249.5 L498.7,243.5 L503.4,237.8 L508.3,232.4 L513.5,227.1 L518.9,222.1 L524.6,217.4 L530.5,212.8 L536.7,208.5 L543.0,204.5 L549.7,200.7 L556.5,197.2 L563.6,193.9 L570.9,190.8 L578.5,188.0 L586.3,185.5 L594.3,183.3 L602.7,181.3 L611.3,179.5 L620.2,178.1 L629.6,176.8 L639.3,175.9 L649.7,175.2 L661.1,174.8 L675.7,174.7 L690.3,174.8 L701.7,175.2 L712.1,175.9 L721.8,176.8 L731.2,178.1 L740.1,179.5 L748.7,181.3 L757.1,183.3 L765.1,185.5 L772.9,188.0 L780.5,190.8 L787.8,193.9 L794.9,197.2 L801.7,200.7 L808.4,204.5 L814.7,208.5 L820.9,212.8 L826.8,217.4 L832.5,222.1 L837.9,227.1 L843.1,232.4 L848.0,237.8 L852.7,243.5 L857.1,249.5 L861.3,255.6 L865.3,262.0 L868.9,268.6 L872.3,275.5 L875.5,282.5 L878.4,289.8 L881.0,297.4 L883.3,305.2 L885.4,313.2 L887.2,321.5 L888.7,330.2 L890.0,339.2 L890.9,348.6 L891.6,358.6 L892.1,369.6 Z" fill="#fff" filter="url(#gLite)"/>
<path d="M882.2,383.7 L882.1,397.1 L881.7,407.6 L881.0,417.1 L880.1,426.1 L878.9,434.7 L877.4,442.9 L875.7,450.8 L873.7,458.5 L871.5,465.9 L869.0,473.1 L866.3,480.0 L863.3,486.8 L860.0,493.3 L856.5,499.6 L852.8,505.6 L848.8,511.5 L844.5,517.1 L840.1,522.6 L835.3,527.8 L830.4,532.8 L825.2,537.5 L819.8,542.1 L814.2,546.4 L808.3,550.5 L802.2,554.3 L795.9,557.9 L789.4,561.3 L782.6,564.5 L775.7,567.3 L768.4,570.0 L761.0,572.4 L753.3,574.5 L745.4,576.5 L737.1,578.1 L728.6,579.5 L719.7,580.7 L710.4,581.5 L700.5,582.2 L689.6,582.6 L675.7,582.7 L661.8,582.6 L650.9,582.2 L641.0,581.5 L631.7,580.7 L622.8,579.5 L614.3,578.1 L606.0,576.5 L598.1,574.5 L590.4,572.4 L583.0,570.0 L575.7,567.3 L568.8,564.5 L562.0,561.3 L555.5,557.9 L549.2,554.3 L543.1,550.5 L537.2,546.4 L531.6,542.1 L526.2,537.5 L521.0,532.8 L516.1,527.8 L511.3,522.6 L506.9,517.1 L502.6,511.5 L498.6,505.6 L494.9,499.6 L491.4,493.3 L488.1,486.8 L485.1,480.0 L482.4,473.1 L479.9,465.9 L477.7,458.5 L475.7,450.8 L474.0,442.9 L472.5,434.7 L471.3,426.1 L470.4,417.1 L469.7,407.6 L469.3,397.1 L469.2,383.7 L469.3,370.3 L469.7,359.8 L470.4,350.3 L471.3,341.3 L472.5,332.7 L474.0,324.5 L475.7,316.6 L477.7,308.9 L479.9,301.5 L482.4,294.3 L485.1,287.4 L488.1,280.6 L491.4,274.1 L494.9,267.8 L498.6,261.8 L502.6,255.9 L506.9,250.3 L511.3,244.8 L516.1,239.6 L521.0,234.6 L526.2,229.9 L531.6,225.3 L537.2,221.0 L543.1,216.9 L549.2,213.1 L555.5,209.5 L562.0,206.1 L568.8,202.9 L575.7,200.1 L583.0,197.4 L590.4,195.0 L598.1,192.9 L606.0,190.9 L614.3,189.3 L622.8,187.9 L631.7,186.7 L641.0,185.9 L650.9,185.2 L661.8,184.8 L675.7,184.7 L689.6,184.8 L700.5,185.2 L710.4,185.9 L719.7,186.7 L728.6,187.9 L737.1,189.3 L745.4,190.9 L753.3,192.9 L761.0,195.0 L768.4,197.4 L775.7,200.1 L782.6,202.9 L789.4,206.1 L795.9,209.5 L802.2,213.1 L808.3,216.9 L814.2,221.0 L819.8,225.3 L825.2,229.9 L830.4,234.6 L835.3,239.6 L840.1,244.8 L844.5,250.3 L848.8,255.9 L852.8,261.8 L856.5,267.8 L860.0,274.1 L863.3,280.6 L866.3,287.4 L869.0,294.3 L871.5,301.5 L873.7,308.9 L875.7,316.6 L877.4,324.5 L878.9,332.7 L880.1,341.3 L881.0,350.3 L881.7,359.8 L882.1,370.3 Z" fill="none" stroke="#50e6a0" stroke-width="8"/>
<path d="M879.2,383.7 L879.1,396.9 L878.7,407.2 L878.0,416.6 L877.1,425.5 L875.9,433.9 L874.5,442.0 L872.8,449.8 L870.9,457.4 L868.7,464.7 L866.2,471.7 L863.5,478.6 L860.5,485.2 L857.3,491.6 L853.9,497.8 L850.2,503.8 L846.3,509.6 L842.1,515.1 L837.7,520.5 L833.0,525.6 L828.2,530.5 L823.0,535.2 L817.7,539.7 L812.2,543.9 L806.4,548.0 L800.4,551.8 L794.2,555.3 L787.7,558.6 L781.1,561.7 L774.2,564.6 L767.1,567.2 L759.8,569.6 L752.2,571.7 L744.3,573.5 L736.2,575.2 L727.8,576.6 L719.1,577.7 L709.9,578.6 L700.1,579.2 L689.4,579.6 L675.7,579.7 L662.0,579.6 L651.3,579.2 L641.5,578.6 L632.3,577.7 L623.6,576.6 L615.2,575.2 L607.1,573.5 L599.2,571.7 L591.6,569.6 L584.3,567.2 L577.2,564.6 L570.3,561.7 L563.7,558.6 L557.2,555.3 L551.0,551.8 L545.0,548.0 L539.2,543.9 L533.7,539.7 L528.4,535.2 L523.2,530.5 L518.4,525.6 L513.7,520.5 L509.3,515.1 L505.1,509.6 L501.2,503.8 L497.5,497.8 L494.1,491.6 L490.9,485.2 L487.9,478.6 L485.2,471.7 L482.7,464.7 L480.5,457.4 L478.6,449.8 L476.9,442.0 L475.5,433.9 L474.3,425.5 L473.4,416.6 L472.7,407.2 L472.3,396.9 L472.2,383.7 L472.3,370.5 L472.7,360.2 L473.4,350.8 L474.3,341.9 L475.5,333.5 L476.9,325.4 L478.6,317.6 L480.5,310.0 L482.7,302.7 L485.2,295.7 L487.9,288.8 L490.9,282.2 L494.1,275.8 L497.5,269.6 L501.2,263.6 L505.1,257.8 L509.3,252.3 L513.7,246.9 L518.4,241.8 L523.2,236.9 L528.4,232.2 L533.7,227.7 L539.2,223.5 L545.0,219.4 L551.0,215.6 L557.2,212.1 L563.7,208.8 L570.3,205.7 L577.2,202.8 L584.3,200.2 L591.6,197.8 L599.2,195.7 L607.1,193.9 L615.2,192.2 L623.6,190.8 L632.3,189.7 L641.5,188.8 L651.3,188.2 L662.0,187.8 L675.7,187.7 L689.4,187.8 L700.1,188.2 L709.9,188.8 L719.1,189.7 L727.8,190.8 L736.2,192.2 L744.3,193.9 L752.2,195.7 L759.8,197.8 L767.1,200.2 L774.2,202.8 L781.1,205.7 L787.7,208.8 L794.2,212.1 L800.4,215.6 L806.4,219.4 L812.2,223.5 L817.7,227.7 L823.0,232.2 L828.2,236.9 L833.0,241.8 L837.7,246.9 L842.1,252.3 L846.3,257.8 L850.2,263.6 L853.9,269.6 L857.3,275.8 L860.5,282.2 L863.5,288.8 L866.2,295.7 L868.7,302.7 L870.9,310.0 L872.8,317.6 L874.5,325.4 L875.9,333.5 L877.1,341.9 L878.0,350.8 L878.7,360.2 L879.1,370.5 Z" fill="#30e288"/>
<path d="M876.2,383.7 L876.1,396.7 L875.7,406.8 L875.0,416.1 L874.1,424.8 L873.0,433.1 L871.6,441.1 L869.9,448.8 L868.0,456.2 L865.8,463.4 L863.4,470.4 L860.7,477.1 L857.8,483.6 L854.7,490.0 L851.3,496.1 L847.6,502.0 L843.7,507.6 L839.6,513.1 L835.3,518.4 L830.7,523.4 L825.9,528.3 L820.9,532.9 L815.6,537.3 L810.2,541.5 L804.5,545.5 L798.6,549.2 L792.4,552.7 L786.1,556.0 L779.5,559.0 L772.8,561.8 L765.7,564.4 L758.5,566.7 L751.1,568.8 L743.3,570.6 L735.3,572.2 L727.1,573.6 L718.4,574.7 L709.4,575.6 L699.7,576.2 L689.2,576.6 L675.7,576.7 L662.2,576.6 L651.7,576.2 L642.0,575.6 L633.0,574.7 L624.3,573.6 L616.1,572.2 L608.1,570.6 L600.3,568.8 L592.9,566.7 L585.7,564.4 L578.6,561.8 L571.9,559.0 L565.3,556.0 L559.0,552.7 L552.8,549.2 L546.9,545.5 L541.2,541.5 L535.8,537.3 L530.5,532.9 L525.5,528.3 L520.7,523.4 L516.1,518.4 L511.8,513.1 L507.7,507.6 L503.8,502.0 L500.1,496.1 L496.7,490.0 L493.6,483.6 L490.7,477.1 L488.0,470.4 L485.6,463.4 L483.4,456.2 L481.5,448.8 L479.8,441.1 L478.4,433.1 L477.3,424.8 L476.4,416.1 L475.7,406.8 L475.3,396.7 L475.2,383.7 L475.3,370.7 L475.7,360.6 L476.4,351.3 L477.3,342.6 L478.4,334.3 L479.8,326.3 L481.5,318.6 L483.4,311.2 L485.6,304.0 L488.0,297.0 L490.7,290.3 L493.6,283.8 L496.7,277.4 L500.1,271.3 L503.8,265.4 L507.7,259.8 L511.8,254.3 L516.1,249.0 L520.7,244.0 L525.5,239.1 L530.5,234.5 L535.8,230.1 L541.2,225.9 L546.9,221.9 L552.8,218.2 L559.0,214.7 L565.3,211.4 L571.9,208.4 L578.6,205.6 L585.7,203.0 L592.9,200.7 L600.3,198.6 L608.1,196.8 L616.1,195.2 L624.3,193.8 L633.0,192.7 L642.0,191.8 L651.7,191.2 L662.2,190.8 L675.7,190.7 L689.2,190.8 L699.7,191.2 L709.4,191.8 L718.4,192.7 L727.1,193.8 L735.3,195.2 L743.3,196.8 L751.1,198.6 L758.5,200.7 L765.7,203.0 L772.8,205.6 L779.5,208.4 L786.1,211.4 L792.4,214.7 L798.6,218.2 L804.5,221.9 L810.2,225.9 L815.6,230.1 L820.9,234.5 L825.9,239.1 L830.7,244.0 L835.3,249.0 L839.6,254.3 L843.7,259.8 L847.6,265.4 L851.3,271.3 L854.7,277.4 L857.8,283.8 L860.7,290.3 L863.4,297.0 L865.8,304.0 L868.0,311.2 L869.9,318.6 L871.6,326.3 L873.0,334.3 L874.1,342.6 L875.0,351.3 L875.7,360.6 L876.1,370.7 Z" fill="none" stroke="#5ce8a8" stroke-opacity="0.45" stroke-width="6"/>
<path d="M869.2,383.7 L869.1,396.2 L868.7,406.0 L868.1,414.9 L867.2,423.3 L866.1,431.3 L864.7,439.0 L863.1,446.4 L861.3,453.6 L859.2,460.5 L856.8,467.2 L854.3,473.7 L851.5,480.0 L848.4,486.1 L845.1,492.0 L841.6,497.7 L837.9,503.2 L833.9,508.4 L829.7,513.5 L825.3,518.4 L820.7,523.0 L815.8,527.5 L810.7,531.7 L805.5,535.8 L800.0,539.6 L794.3,543.2 L788.4,546.6 L782.2,549.7 L775.9,552.6 L769.4,555.3 L762.6,557.8 L755.6,560.1 L748.4,562.1 L741.0,563.9 L733.3,565.4 L725.3,566.7 L716.9,567.8 L708.2,568.6 L698.9,569.2 L688.7,569.6 L675.7,569.7 L662.7,569.6 L652.5,569.2 L643.2,568.6 L634.5,567.8 L626.1,566.7 L618.1,565.4 L610.4,563.9 L603.0,562.1 L595.8,560.1 L588.8,557.8 L582.0,555.3 L575.5,552.6 L569.2,549.7 L563.0,546.6 L557.1,543.2 L551.4,539.6 L545.9,535.8 L540.7,531.7 L535.6,527.5 L530.7,523.0 L526.1,518.4 L521.7,513.5 L517.5,508.4 L513.5,503.2 L509.8,497.7 L506.3,492.0 L503.0,486.1 L499.9,480.0 L497.1,473.7 L494.6,467.2 L492.2,460.5 L490.1,453.6 L488.3,446.4 L486.7,439.0 L485.3,431.3 L484.2,423.3 L483.3,414.9 L482.7,406.0 L482.3,396.2 L482.2,383.7 L482.3,371.2 L482.7,361.4 L483.3,352.5 L484.2,344.1 L485.3,336.1 L486.7,328.4 L488.3,321.0 L490.1,313.8 L492.2,306.9 L494.6,300.2 L497.1,293.7 L499.9,287.4 L503.0,281.3 L506.3,275.4 L509.8,269.7 L513.5,264.2 L517.5,259.0 L521.7,253.9 L526.1,249.0 L530.7,244.4 L535.6,239.9 L540.7,235.7 L545.9,231.6 L551.4,227.8 L557.1,224.2 L563.0,220.8 L569.2,217.7 L575.5,214.8 L582.0,212.1 L588.8,209.6 L595.8,207.3 L603.0,205.3 L610.4,203.5 L618.1,202.0 L626.1,200.7 L634.5,199.6 L643.2,198.8 L652.5,198.2 L662.7,197.8 L675.7,197.7 L688.7,197.8 L698.9,198.2 L708.2,198.8 L716.9,199.6 L725.3,200.7 L733.3,202.0 L741.0,203.5 L748.4,205.3 L755.6,207.3 L762.6,209.6 L769.4,212.1 L775.9,214.8 L782.2,217.7 L788.4,220.8 L794.3,224.2 L800.0,227.8 L805.5,231.6 L810.7,235.7 L815.8,239.9 L820.7,244.4 L825.3,249.0 L829.7,253.9 L833.9,259.0 L837.9,264.2 L841.6,269.7 L845.1,275.4 L848.4,281.3 L851.5,287.4 L854.3,293.7 L856.8,300.2 L859.2,306.9 L861.3,313.8 L863.1,321.0 L864.7,328.4 L866.1,336.1 L867.2,344.1 L868.1,352.5 L868.7,361.4 L869.1,371.2 Z" fill="none" stroke="#58e4a0" stroke-opacity="0.25" stroke-width="8"/>
<path d="M873.2,383.7 L873.1,396.5 L872.7,406.5 L872.1,415.6 L871.2,424.2 L870.0,432.4 L868.6,440.2 L867.0,447.8 L865.1,455.1 L863.0,462.2 L860.6,469.0 L858.0,475.7 L855.1,482.1 L852.0,488.3 L848.6,494.3 L845.0,500.1 L841.2,505.7 L837.2,511.1 L832.9,516.3 L828.4,521.3 L823.7,526.0 L818.7,530.6 L813.5,534.9 L808.1,539.0 L802.5,542.9 L796.7,546.6 L790.7,550.1 L784.4,553.3 L778.0,556.3 L771.3,559.0 L764.4,561.6 L757.3,563.9 L749.9,565.9 L742.3,567.7 L734.5,569.3 L726.3,570.7 L717.8,571.7 L708.9,572.6 L699.4,573.2 L689.0,573.6 L675.7,573.7 L662.4,573.6 L652.0,573.2 L642.5,572.6 L633.6,571.7 L625.1,570.7 L616.9,569.3 L609.1,567.7 L601.5,565.9 L594.1,563.9 L587.0,561.6 L580.1,559.0 L573.4,556.3 L567.0,553.3 L560.7,550.1 L554.7,546.6 L548.9,542.9 L543.3,539.0 L537.9,534.9 L532.7,530.6 L527.7,526.0 L523.0,521.3 L518.5,516.3 L514.2,511.1 L510.2,505.7 L506.4,500.1 L502.8,494.3 L499.4,488.3 L496.3,482.1 L493.4,475.7 L490.8,469.0 L488.4,462.2 L486.3,455.1 L484.4,447.8 L482.8,440.2 L481.4,432.4 L480.2,424.2 L479.3,415.6 L478.7,406.5 L478.3,396.5 L478.2,383.7 L478.3,370.9 L478.7,360.9 L479.3,351.8 L480.2,343.2 L481.4,335.0 L482.8,327.2 L484.4,319.6 L486.3,312.3 L488.4,305.2 L490.8,298.4 L493.4,291.7 L496.3,285.3 L499.4,279.1 L502.8,273.1 L506.4,267.3 L510.2,261.7 L514.2,256.3 L518.5,251.1 L523.0,246.1 L527.7,241.4 L532.7,236.8 L537.9,232.5 L543.3,228.4 L548.9,224.5 L554.7,220.8 L560.7,217.3 L567.0,214.1 L573.4,211.1 L580.1,208.4 L587.0,205.8 L594.1,203.5 L601.5,201.5 L609.1,199.7 L616.9,198.1 L625.1,196.7 L633.6,195.7 L642.5,194.8 L652.0,194.2 L662.4,193.8 L675.7,193.7 L689.0,193.8 L699.4,194.2 L708.9,194.8 L717.8,195.7 L726.3,196.7 L734.5,198.1 L742.3,199.7 L749.9,201.5 L757.3,203.5 L764.4,205.8 L771.3,208.4 L778.0,211.1 L784.4,214.1 L790.7,217.3 L796.7,220.8 L802.5,224.5 L808.1,228.4 L813.5,232.5 L818.7,236.8 L823.7,241.4 L828.4,246.1 L832.9,251.1 L837.2,256.3 L841.2,261.7 L845.0,267.3 L848.6,273.1 L852.0,279.1 L855.1,285.3 L858.0,291.7 L860.6,298.4 L863.0,305.2 L865.1,312.3 L867.0,319.6 L868.6,327.2 L870.0,335.0 L871.2,343.2 L872.1,351.8 L872.7,360.9 L873.1,370.9 Z" fill="none" stroke="#3aa890" stroke-opacity="0.3" stroke-width="1.2"/>
<path d="M866.2,383.7 L866.1,396.0 L865.7,405.6 L865.1,414.4 L864.2,422.7 L863.1,430.6 L861.8,438.1 L860.2,445.4 L858.4,452.5 L856.3,459.3 L854.0,465.9 L851.5,472.3 L848.7,478.5 L845.7,484.5 L842.5,490.2 L839.0,495.8 L835.4,501.2 L831.5,506.4 L827.3,511.4 L823.0,516.2 L818.4,520.8 L813.6,525.2 L808.6,529.4 L803.4,533.3 L798.0,537.1 L792.4,540.6 L786.6,543.9 L780.6,547.0 L774.4,549.9 L767.9,552.6 L761.3,555.0 L754.4,557.2 L747.3,559.2 L740.0,561.0 L732.4,562.5 L724.5,563.8 L716.3,564.8 L707.7,565.6 L698.5,566.2 L688.5,566.6 L675.7,566.7 L662.9,566.6 L652.9,566.2 L643.7,565.6 L635.1,564.8 L626.9,563.8 L619.0,562.5 L611.4,561.0 L604.1,559.2 L597.0,557.2 L590.1,555.0 L583.5,552.6 L577.0,549.9 L570.8,547.0 L564.8,543.9 L559.0,540.6 L553.4,537.1 L548.0,533.3 L542.8,529.4 L537.8,525.2 L533.0,520.8 L528.4,516.2 L524.1,511.4 L519.9,506.4 L516.0,501.2 L512.4,495.8 L508.9,490.2 L505.7,484.5 L502.7,478.5 L499.9,472.3 L497.4,465.9 L495.1,459.3 L493.0,452.5 L491.2,445.4 L489.6,438.1 L488.3,430.6 L487.2,422.7 L486.3,414.4 L485.7,405.6 L485.3,396.0 L485.2,383.7 L485.3,371.4 L485.7,361.8 L486.3,353.0 L487.2,344.7 L488.3,336.8 L489.6,329.3 L491.2,322.0 L493.0,314.9 L495.1,308.1 L497.4,301.5 L499.9,295.1 L502.7,288.9 L505.7,282.9 L508.9,277.2 L512.4,271.6 L516.0,266.2 L519.9,261.0 L524.1,256.0 L528.4,251.2 L533.0,246.6 L537.8,242.2 L542.8,238.0 L548.0,234.1 L553.4,230.3 L559.0,226.8 L564.8,223.5 L570.8,220.4 L577.0,217.5 L583.5,214.8 L590.1,212.4 L597.0,210.2 L604.1,208.2 L611.4,206.4 L619.0,204.9 L626.9,203.6 L635.1,202.6 L643.7,201.8 L652.9,201.2 L662.9,200.8 L675.7,200.7 L688.5,200.8 L698.5,201.2 L707.7,201.8 L716.3,202.6 L724.5,203.6 L732.4,204.9 L740.0,206.4 L747.3,208.2 L754.4,210.2 L761.3,212.4 L767.9,214.8 L774.4,217.5 L780.6,220.4 L786.6,223.5 L792.4,226.8 L798.0,230.3 L803.4,234.1 L808.6,238.0 L813.6,242.2 L818.4,246.6 L823.0,251.2 L827.3,256.0 L831.5,261.0 L835.4,266.2 L839.0,271.6 L842.5,277.2 L845.7,282.9 L848.7,288.9 L851.5,295.1 L854.0,301.5 L856.3,308.1 L858.4,314.9 L860.2,322.0 L861.8,329.3 L863.1,336.8 L864.2,344.7 L865.1,353.0 L865.7,361.8 L866.1,371.4 Z" fill="none" stroke="#3aa890" stroke-opacity="0.2" stroke-width="1.2"/>
<path d="M883.2,383.7 L883.1,397.2 L882.7,407.7 L882.0,417.3 L881.1,426.3 L879.9,434.9 L878.4,443.2 L876.7,451.2 L874.7,458.9 L872.5,466.3 L870.0,473.5 L867.2,480.5 L864.2,487.3 L860.9,493.8 L857.4,500.1 L853.6,506.2 L849.6,512.1 L845.4,517.8 L840.9,523.3 L836.1,528.5 L831.1,533.5 L825.9,538.3 L820.5,542.9 L814.8,547.2 L809.0,551.3 L802.8,555.2 L796.5,558.8 L789.9,562.2 L783.2,565.4 L776.1,568.3 L768.9,570.9 L761.4,573.3 L753.7,575.5 L745.7,577.4 L737.4,579.1 L728.9,580.5 L719.9,581.6 L710.5,582.5 L700.6,583.2 L689.7,583.6 L675.7,583.7 L661.7,583.6 L650.8,583.2 L640.9,582.5 L631.5,581.6 L622.5,580.5 L614.0,579.1 L605.7,577.4 L597.7,575.5 L590.0,573.3 L582.5,570.9 L575.3,568.3 L568.2,565.4 L561.5,562.2 L554.9,558.8 L548.6,555.2 L542.4,551.3 L536.6,547.2 L530.9,542.9 L525.5,538.3 L520.3,533.5 L515.3,528.5 L510.5,523.3 L506.0,517.8 L501.8,512.1 L497.8,506.2 L494.0,500.1 L490.5,493.8 L487.2,487.3 L484.2,480.5 L481.4,473.5 L478.9,466.3 L476.7,458.9 L474.7,451.2 L473.0,443.2 L471.5,434.9 L470.3,426.3 L469.4,417.3 L468.7,407.7 L468.3,397.2 L468.2,383.7 L468.3,370.2 L468.7,359.7 L469.4,350.1 L470.3,341.1 L471.5,332.5 L473.0,324.2 L474.7,316.2 L476.7,308.5 L478.9,301.1 L481.4,293.9 L484.2,286.9 L487.2,280.1 L490.5,273.6 L494.0,267.3 L497.8,261.2 L501.8,255.3 L506.0,249.6 L510.5,244.1 L515.3,238.9 L520.3,233.9 L525.5,229.1 L530.9,224.5 L536.6,220.2 L542.4,216.1 L548.6,212.2 L554.9,208.6 L561.5,205.2 L568.2,202.0 L575.3,199.1 L582.5,196.5 L590.0,194.1 L597.7,191.9 L605.7,190.0 L614.0,188.3 L622.5,186.9 L631.5,185.8 L640.9,184.9 L650.8,184.2 L661.7,183.8 L675.7,183.7 L689.7,183.8 L700.6,184.2 L710.5,184.9 L719.9,185.8 L728.9,186.9 L737.4,188.3 L745.7,190.0 L753.7,191.9 L761.4,194.1 L768.9,196.5 L776.1,199.1 L783.2,202.0 L789.9,205.2 L796.5,208.6 L802.8,212.2 L809.0,216.1 L814.8,220.2 L820.5,224.5 L825.9,229.1 L831.1,233.9 L836.1,238.9 L840.9,244.1 L845.4,249.6 L849.6,255.3 L853.6,261.2 L857.4,267.3 L860.9,273.6 L864.2,280.1 L867.2,286.9 L870.0,293.9 L872.5,301.1 L874.7,308.5 L876.7,316.2 L878.4,324.2 L879.9,332.5 L881.1,341.1 L882.0,350.1 L882.7,359.7 L883.1,370.2 Z" fill="none" stroke="#3aa890" stroke-opacity="0.4" stroke-width="1.2"/>
<!-- top panel -->
<use href="#pTop" fill="#fff"/>
<use href="#pTop" fill="url(#gBlueTop)"/>
<use href="#pTop" fill="none" stroke="#d2d2d2" stroke-width="2"/>
<!-- middle panel -->
<use href="#pMid" fill="#fff"/>
<use href="#pMid" fill="url(#gBlueMid)"/>
<use href="#pMid" fill="url(#gGreenMid)"/>
<!-- bottom panel -->
<use href="#pBot" fill="#fff"/>
<use href="#pBot" fill="url(#gGreenBot)"/>
<use href="#pBot" fill="none" stroke="#a0e2cc" stroke-width="2.4"/>
<!-- arrows -->
<path d="M143.5,274 V305 A36,36 0 0 0 179.5,341 H263" fill="none" stroke="url(#gArrow1)" stroke-width="1.8"/>
<path d="M261.5,336.6 L269.2,341 L261.5,345.4 Z" fill="#0a3eb0"/>
<path d="M390,335 H432" fill="none" stroke="url(#gArrowS)" stroke-width="2"/>
<path d="M430.3,330.2 L438.2,335 L430.3,339.8 Z" fill="#0b40b0"/>
<path d="M545,334.8 H587" fill="none" stroke="url(#gArrowS2)" stroke-width="1.9"/>
<path d="M585.3,330.2 L593,334.8 L585.3,339.4 Z" fill="#0b40b0"/>
<path d="M768,341 H800 A40,40 0 0 1 840,381 V392" fill="none" stroke="url(#gArrow2)" stroke-width="2"/>
<path d="M835,391 L845,391 L840,399 Z" fill="#2a935a"/>

<!-- icons top (gray) -->
<g fill="none" stroke="#737373" stroke-width="3.4" stroke-linecap="round" stroke-linejoin="round">
  <path d="M120,128.8 V161 H159.1" stroke-linecap="square" stroke-linejoin="miter"/>
  <path d="M121.5,131.5 L132.7,144.5 L139.5,137.8 L152.5,151"/>
  <path d="M146,152.5 H153.5 V145"/>
</g>
<g fill="none" stroke="#737373" stroke-width="3" stroke-linecap="round" stroke-linejoin="round">
  <path d="M296.5,80.5 A9.5,9.5 0 0 1 315.5,80.5"/>
  <path d="M297.9,107.5 L292.4,98 Q291,94.5 294,92.8 Q297,91.8 299,94 L302.5,99 V79 A3.5,3.5 0 0 1 309.5,79 V93 M309.5,89.5 A3.5,3.5 0 0 1 316.5,89.5 V94 M316.5,92 A4,4 0 0 1 324.4,93 V100 L322.5,107.5"/>
</g>
<g fill="none" stroke="#737373" stroke-width="3" stroke-linecap="round" stroke-linejoin="round">
  <path d="M506,78.5 V88.5 L513.5,93"/>
  <path d="M486.5,75 V84 H495"/>
  <path d="M493,100.5 A16.8,16.8 0 1 0 490,80"/>
  <path d="M490,80 L487,83.5"/>
</g>

<!-- icons middle (blue) -->
<g fill="none" stroke="#0b40b0" stroke-width="2.65" stroke-linecap="round" stroke-linejoin="round">
  <path d="M321.5,275.3 V284.9 H332"/>
  <path d="M323.3,282.4 A18.5,18.5 0 0 1 353.9,279.1"/>
  <path d="M357.7,308.3 V297.9 H347.6"/>
  <path d="M356.4,299 A18.5,18.5 0 0 1 326.3,303.7"/>
  <path d="M494.5,308.5 H529.5 M498.2,308.5 V296.1 H506.8 V308.5 M506.8,296.1 V287.7 H516.5 V308.5 M516.5,287.7 V279.5 H525.9 V308.5" stroke-linecap="round"/>
  <path d="M656.7,281.5 V307 Q656.7,310 659.5,308.3 Q667,302 676.4,300.6 H683.5 A6.6,6.6 0 0 0 683.5,287.4 H676.4 Q667,286 659.5,280.5 Q656.7,278.5 656.7,281.5 Z"/>
  <path d="M676.4,287.4 V308 Q676.8,310.3 679.5,310.3 Q681.6,310.3 682,308 L683,300.6"/>
</g>

<!-- icons bottom (green) -->
<g fill="none" stroke="#27a05e" stroke-width="2.6" stroke-linecap="round" stroke-linejoin="round">
  <path d="M481.56,513.87 L470.7,524.7 V532.6 H477.8 V527.8 H482.1 V523.5 H487.6 L489.53,521.27"/>
  <path d="M481.56,513.87 A12.9,12.9 0 1 1 489.53,521.27"/>
  <path d="M680.8,498 L675.6,508.6 L663,510.8 L672,519.9 L669.8,531.3 L680.8,526.4 L692.1,531.3 L690.6,519.9 L698.6,510.8 L686.1,508.6 Z"/>
  <path d="M854.5,480.8 L866,469.4 Q872,464.5 880.3,464.5 Q880.8,472 874.6,477 L863.2,489.5 Z"/>
  <path d="M866,469.6 H851.8 L844.5,476.8 Q844,479.4 846.5,479.8 L854.5,480.8"/>
  <path d="M874.6,479 V493.4 L866,500.9 Q863.6,501.3 863.5,498.5 L863.2,489.5"/>
  <path d="M851.4,487.5 Q846,491 845.5,498.6 Q853,498 856.9,492.6"/>
</g>
<circle cx="497.1" cy="505.8" r="1.9" fill="#27a05e"/>

<g opacity="0.995">
<text x="89.94" y="191.6" textLength="91.95" lengthAdjust="spacingAndGlyphs">Customer</text>
<text x="92.07" y="219.8" textLength="95.15" lengthAdjust="spacingAndGlyphs">Data Silos</text>
<text x="253.14" y="136.9" textLength="106.83" lengthAdjust="spacingAndGlyphs">Redundant</text>
<text x="241.21" y="164.7" textLength="138.96" lengthAdjust="spacingAndGlyphs">MarTech Tools</text>
<text x="446.63" y="136.6" textLength="113.89" lengthAdjust="spacingAndGlyphs">Enablement</text>
<text x="453.67" y="164.6" textLength="108.08" lengthAdjust="spacingAndGlyphs">Hindrances</text>
<text x="301.10" y="342.6" textLength="77.45" lengthAdjust="spacingAndGlyphs">Manage</text>
<text x="320.79" y="370.2" textLength="43.64" lengthAdjust="spacingAndGlyphs">Data</text>
<text x="454.35" y="339.5" textLength="84.84" lengthAdjust="spacingAndGlyphs">Optimize</text>
<text x="458.12" y="367.5" textLength="83.45" lengthAdjust="spacingAndGlyphs">MarTech</text>
<text x="601.32" y="340.1" textLength="144.36" lengthAdjust="spacingAndGlyphs">Manage Digital</text>
<text x="632.41" y="367.7" textLength="88.72" lengthAdjust="spacingAndGlyphs">Presence</text>
<text x="441.45" y="563.2" textLength="86.97" lengthAdjust="spacingAndGlyphs">Effective</text>
<text x="439.48" y="591.2" textLength="98.47" lengthAdjust="spacingAndGlyphs">Marketing</text>
<text x="637.40" y="562.8" textLength="79.65" lengthAdjust="spacingAndGlyphs">Efficient</text>
<text x="656.63" y="590.9" textLength="49.60" lengthAdjust="spacingAndGlyphs">Tools</text>
<text x="816.48" y="532.7" textLength="81.84" lengthAdjust="spacingAndGlyphs">Boosted</text>
<text x="835.22" y="560.2" textLength="50.57" lengthAdjust="spacingAndGlyphs">Sales</text>
</g>
</svg>
</body></html>
